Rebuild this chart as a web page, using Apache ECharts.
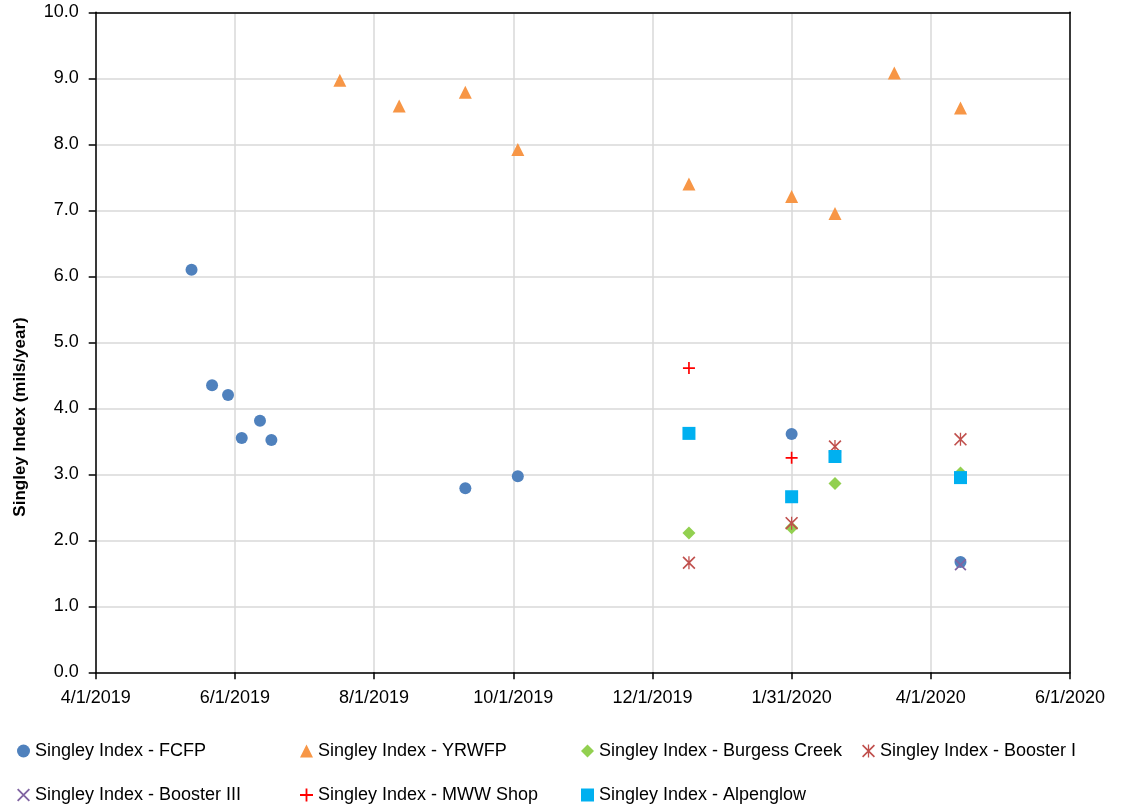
<!DOCTYPE html>
<html>
<head>
<meta charset="utf-8">
<script src="https://cdn.jsdelivr.net/npm/echarts@6/dist/echarts.min.js"></script>
<style>html,body{margin:0;padding:0;background:#fff;}#c{width:1123px;height:807px;}</style>
</head>
<body>
<div id="c"></div>
<script>
// ---- data ----
const xTickLabels = ['4/1/2019','6/1/2019','8/1/2019','10/1/2019','12/1/2019','1/31/2020','4/1/2020','6/1/2020'];
const yTickLabels = ['0.0','1.0','2.0','3.0','4.0','5.0','6.0','7.0','8.0','9.0','10.0'];

const fcfpDates = ['2019-05-13','2019-05-22','2019-05-29','2019-06-04','2019-06-12','2019-06-17','2019-09-10','2019-10-03','2020-01-31','2020-04-14'];
const fcfpValues = [6.10,4.35,4.20,3.55,3.81,3.52,2.79,2.97,3.61,1.67];

const yrwfpDates = ['2019-07-17','2019-08-12','2019-09-10','2019-10-03','2019-12-17','2020-01-31','2020-02-19','2020-03-16','2020-04-14'];
const yrwfpValues = [8.97,8.58,8.79,7.92,7.40,7.21,6.95,9.08,8.55];

const burgessDates = ['2019-12-17','2020-01-31','2020-02-19','2020-04-14'];
const burgessValues = [2.11,2.19,2.86,3.02];

const booster1Dates = ['2019-12-17','2020-01-31','2020-02-19','2020-04-14'];
const booster1Values = [1.66,2.26,3.42,3.53];

const booster3Dates = ['2020-04-14'];
const booster3Values = [1.63];

const mwwDates = ['2019-12-17','2020-01-31'];
const mwwValues = [4.61,3.25];

const alpenDates = ['2019-12-17','2020-01-31','2020-02-19','2020-04-14'];
const alpenValues = [3.62,2.66,3.27,2.95];

const seriesNames = ['Singley Index - FCFP','Singley Index - YRWFP','Singley Index - Burgess Creek','Singley Index - Booster I','Singley Index - Booster III','Singley Index - MWW Shop','Singley Index - Alpenglow'];

// ---- helpers ----
const originDate = '2019-04-01';
const DAY = 86400000;
function dayOffset(s){
  const [y,m,d] = s.split('-').map(Number);
  const [oy,om,od] = originDate.split('-').map(Number);
  return Math.round((Date.UTC(y,m-1,d) - Date.UTC(oy,om-1,od)) / DAY);
}
function pts(dates, vals){ return dates.map((d,i)=>[dayOffset(d), vals[i]]); }

const plusPath = 'path://M43,0H57V43H100V57H57V100H43V57H0V43H43Z';
const crossPath = 'path://M10,0L100,90L90,100L0,10Z M90,0L100,10L10,100L0,90Z';
const asteriskPath = 'path://M45,0H55V100H45Z M9,0L100,91L91,100L0,9Z M91,0L100,9L9,100L0,91Z';

const FONT = '"Liberation Sans", Arial, sans-serif';

const defs = [
  {data: pts(fcfpDates, fcfpValues), symbol:'circle', size:12, color:'#4F81BD'},
  {data: pts(yrwfpDates, yrwfpValues), symbol:'triangle', size:13, color:'#F79646'},
  {data: pts(burgessDates, burgessValues), symbol:'diamond', size:13, color:'#92D050'},
  {data: pts(booster1Dates, booster1Values), symbol:asteriskPath, size:13, color:'#C0504D'},
  {data: pts(booster3Dates, booster3Values), symbol:crossPath, size:12, color:'#8064A2'},
  {data: pts(mwwDates, mwwValues), symbol:plusPath, size:12, color:'#FF0000'},
  {data: pts(alpenDates, alpenValues), symbol:'rect', size:13, color:'#00B0F0'}
];

const series = defs.map((d,i)=>({
  name: seriesNames[i],
  type: 'scatter',
  data: d.data,
  symbol: d.symbol,
  symbolSize: d.size,
  itemStyle: {color: d.color, opacity: 1},
  z: 2 + i
}));

const legendPos = [
  {left: 17, top: 742}, {left: 300, top: 742}, {left: 581, top: 742}, {left: 862, top: 742},
  {left: 17, top: 786}, {left: 300, top: 786}, {left: 581, top: 786}
];
const legends = seriesNames.map((n,i)=>({
  data: [n],
  left: legendPos[i].left,
  top: legendPos[i].top,
  padding: 0,
  itemWidth: 13,
  itemHeight: 13,
  selectedMode: false,
  textStyle: {fontFamily: FONT, fontSize: 18, color: '#000'}
}));

const chart = echarts.init(document.getElementById('c'), null, {renderer:'canvas'});
chart.setOption({
  animation: false,
  backgroundColor: '#fff',
  grid: {left: 95.7, right: 53, top: 12.3, bottom: 134.7, show: false},
  xAxis: [{
    type: 'value', min: 0, max: 61*(xTickLabels.length-1), interval: 61,
    axisLine: {show: true, onZero: false, lineStyle: {color: '#000', width: 1.5}},
    axisTick: {show: true, length: 7, lineStyle: {color: '#000', width: 1.5}},
    splitLine: {show: true, lineStyle: {color: '#D9D9D9', width: 1.5}},
    axisLabel: {margin: 17, fontFamily: FONT, fontSize: 18, color: '#000',
      formatter: v => xTickLabels[Math.round(v/61)] || ''}
  }, {
    type: 'value', position: 'top', min: 0, max: 61*(xTickLabels.length-1), interval: 61, z: 5,
    axisLine: {show: true, onZero: false, lineStyle: {color: '#000', width: 1.5}},
    axisTick: {show: false}, axisLabel: {show: false}, splitLine: {show: false}
  }],
  yAxis: [{
    type: 'value', min: 0, max: 10, interval: 1,
    axisLine: {show: true, lineStyle: {color: '#000', width: 1.5}},
    axisTick: {show: true, length: 7, lineStyle: {color: '#000', width: 1.5}},
    splitLine: {show: true, lineStyle: {color: '#D9D9D9', width: 1.5}},
    axisLabel: {margin: 17, fontFamily: FONT, fontSize: 18, color: '#000',
      formatter: v => yTickLabels[Math.round(v)]}
  }, {
    type: 'value', position: 'right', min: 0, max: 10, interval: 1, z: 5,
    axisLine: {show: true, onZero: false, lineStyle: {color: '#000', width: 1.5}},
    axisTick: {show: false}, axisLabel: {show: false}, splitLine: {show: false}
  }],
  legend: legends,
  graphic: [{
    type: 'text', x: 20, y: 417, rotation: Math.PI/2,
    style: {text: 'Singley Index (mils/year)', font: 'bold 17px ' + FONT, fill: '#000', textAlign: 'center', textVerticalAlign: 'middle'}
  }],
  series: series
});
</script>
</body>
</html>
